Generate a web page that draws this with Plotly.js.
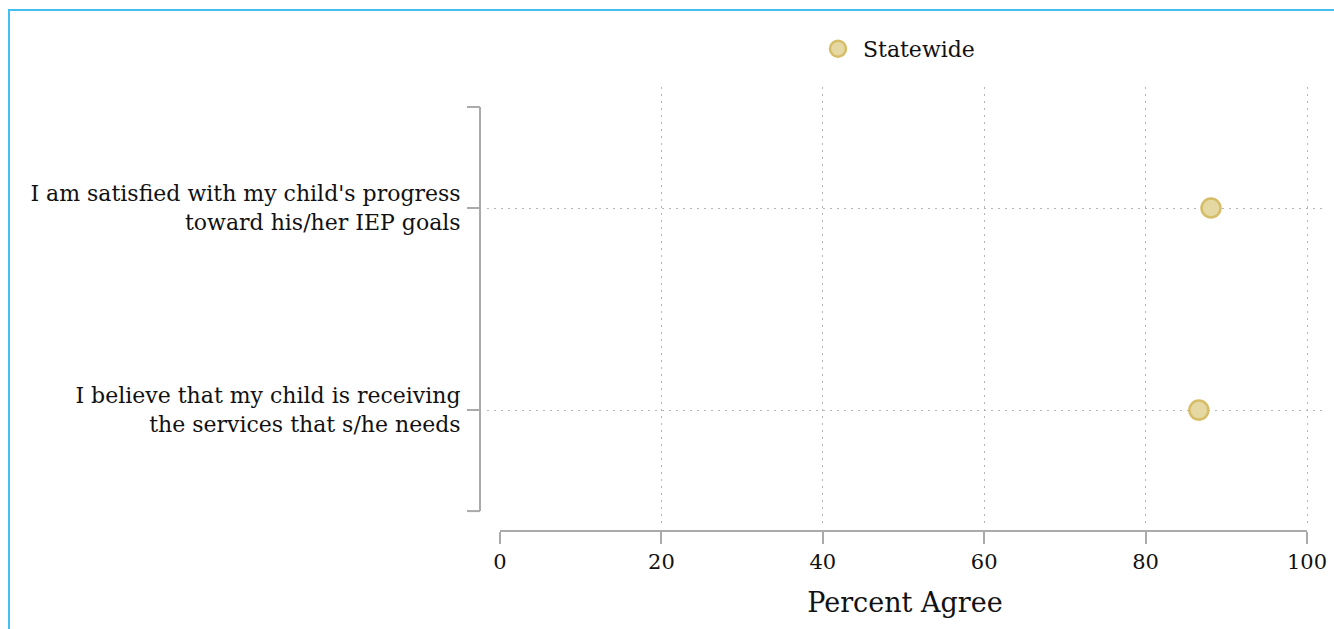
<!DOCTYPE html>
<html>
<head>
<meta charset="utf-8">
<script src="https://cdn.plot.ly/plotly-3.0.1.min.js"></script>
<style>
  html, body { margin: 0; padding: 0; width: 1334px; height: 629px; overflow: hidden; background: #fff; }
  #frame { position: absolute; left: 8px; top: 9px; width: 2000px; height: 2000px;
           border-top: 2px solid #44bdf0; border-left: 2px solid #44bdf0; }
  #chart { position: absolute; left: 0; top: 0; width: 1334px; height: 629px; }
</style>
</head>
<body>
<div id="frame"></div>
<div id="chart"></div>
<script>
// ---- data ----
const categories = [
  "I am satisfied with my child's progress<br>toward his/her IEP goals",
  "I believe that my child is receiving<br>the services that s/he needs"
];
const statewide = [88.1, 86.6];
const seriesName = "Statewide";
const xTickVals = [0, 20, 40, 60, 80, 100];
const xTickText = ["0", "20", "40", "60", "80", "100"];
const xTitle = "Percent Agree";

// ---- layout constants ----
const W = 1334, H = 629;
const L = 480, R = 11, T = 87, B = 98;
const plotW = W - L - R;   // 843
const plotH = H - T - B;   // 444
const FONT = "DejaVu Serif, Georgia, serif";
const axisGrey = "#aaaaaa";
const ink = "#111";

const trace = {
  type: "scatter",
  mode: "markers",
  name: seriesName,
  x: statewide,
  y: categories,
  marker: { size: 19, color: "#e6d8a3", line: { color: "#d6bd68", width: 2.5 } },
  hoverinfo: "skip",
  showlegend: true
};

const layout = {
  width: W, height: H,
  margin: { l: L, r: R, t: T, b: B, pad: 0 },
  paper_bgcolor: "rgba(0,0,0,0)",
  plot_bgcolor: "rgba(0,0,0,0)",
  font: { family: FONT, color: ink, size: 20 },
  showlegend: true,
  legend: {
    orientation: "h",
    x: (813 - L) / plotW, xanchor: "left",
    y: (H - B - 49) / plotH, yanchor: "middle",
    itemwidth: 40,
    font: { family: FONT, size: 22, color: ink },
    bgcolor: "rgba(0,0,0,0)"
  },
  xaxis: {
    domain: [7 / plotW, 1],
    anchor: "free", position: 0,
    range: [-1.61, 101.98],
    tickvals: xTickVals, ticktext: xTickText,
    ticks: "outside", ticklen: 12, tickwidth: 2, tickcolor: axisGrey,
    showline: false,
    showgrid: true, gridcolor: "#b5b5b5", gridwidth: 1, griddash: "2px,5px",
    zeroline: true, zerolinecolor: "rgba(0,0,0,0)",
    tickfont: { family: FONT, size: 21, color: ink },
    title: { text: xTitle, font: { family: FONT, size: 27, color: ink }, standoff: 19 },
    fixedrange: true
  },
  yaxis: {
    type: "category",
    categoryorder: "array", categoryarray: categories,
    domain: [8 / plotH, 1],
    anchor: "free", position: 0,
    range: [1.559, -0.599],
    ticks: "outside", ticklen: 13, tickwidth: 2, tickcolor: axisGrey,
    showline: false,
    showgrid: true, gridcolor: "#b5b5b5", gridwidth: 1, griddash: "2px,5px",
    zeroline: false,
    tickfont: { family: FONT, size: 22, color: ink },
    ticklabelstandoff: 2,
    fixedrange: true
  },
  shapes: [
    // x axis line (0..100)
    { type: "line", xref: "x", yref: "paper", x0: 0, x1: 100, y0: 0, y1: 0,
      line: { color: axisGrey, width: 2 } },
    // y axis bracket line
    { type: "line", xref: "paper", yref: "y", x0: 0, x1: 0, y0: -0.5, y1: 1.5,
      line: { color: axisGrey, width: 2 } },
    // bracket caps
    { type: "line", xref: "paper", yref: "y", x0: -13 / plotW, x1: 0, y0: -0.5, y1: -0.5,
      line: { color: axisGrey, width: 2 } },
    { type: "line", xref: "paper", yref: "y", x0: -13 / plotW, x1: 0, y0: 1.5, y1: 1.5,
      line: { color: axisGrey, width: 2 } }
  ]
};

Plotly.newPlot("chart", [trace], layout, { displayModeBar: false, staticPlot: true });
</script>
</body>
</html>
